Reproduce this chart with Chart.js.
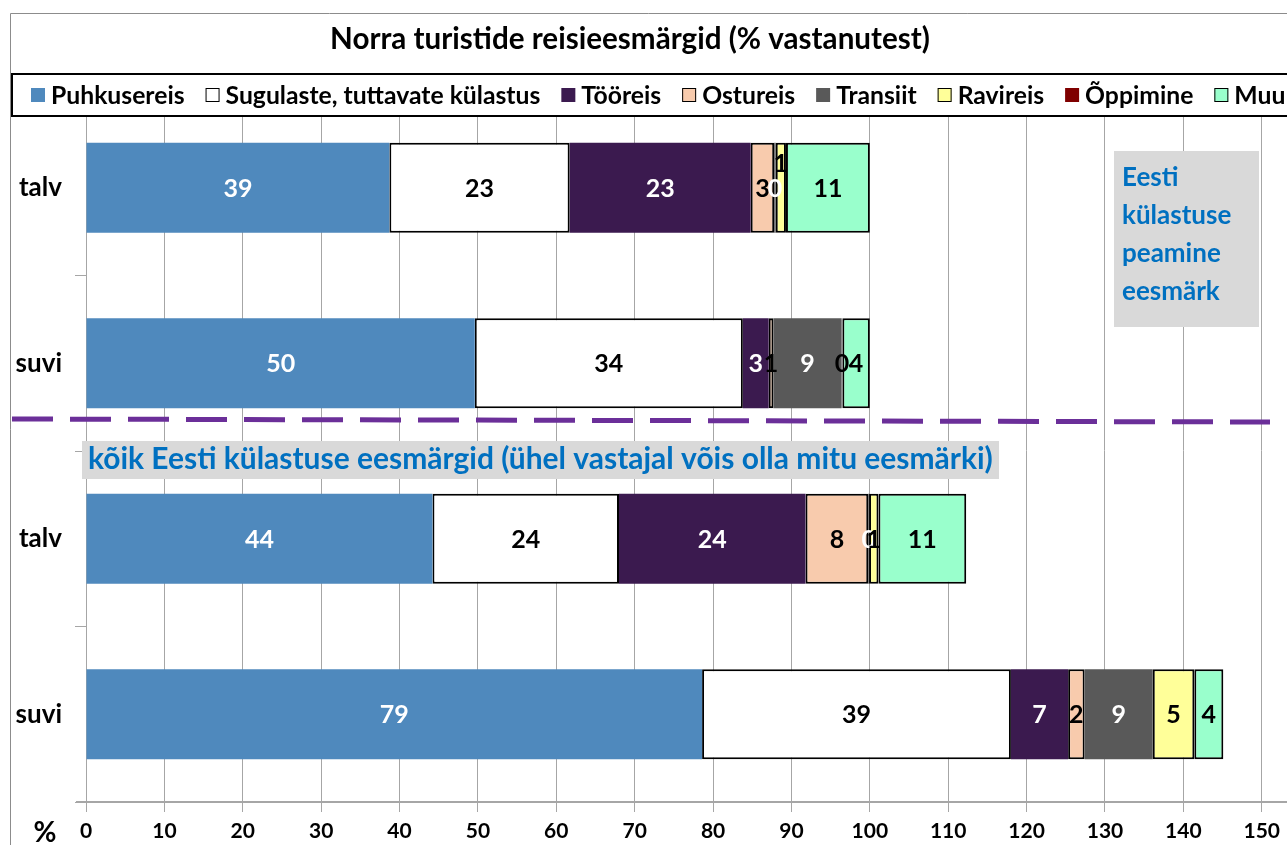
<!DOCTYPE html>
<html>
<head>
<meta charset="utf-8">
<script src="https://cdn.jsdelivr.net/npm/chart.js@4/dist/chart.umd.min.js"></script>
<style>
  html, body { margin: 0; padding: 0; background: #fff; }
  canvas { display: block; }
</style>
</head>
<body>
<canvas id="chart" width="1287" height="845"></canvas>
<script>
// rows: top two = main purpose, bottom two = all purposes
const rows = ['talv', 'suvi', 'talv', 'suvi'];

const puhkusereis = [38.7, 49.6, 44.2, 78.6];
const sugulased   = [23.0, 34.2, 23.8, 39.4];
const tooreis     = [23.1, 3.3, 23.8, 7.3];
const ostureis    = [3.0, 0.6, 8.0, 2.1];
const transiit    = [0.2, 8.7, 0.1, 8.7];
const ravireis    = [1.3, 0.1, 1.2, 5.3];
const oppimine    = [null, null, null, null];
const muu         = [10.7, 3.5, 11.2, 3.7];

const xMin = 0;
const xMax = 150;
const xStep = 10;

const title = 'Norra turistide reisieesmärgid (% vastanutest)';
const noteMain = ['Eesti', 'külastuse', 'peamine', 'eesmärk'];
const noteAll = 'kõik Eesti külastuse eesmärgid (ühel vastajal võis olla mitu eesmärki)';

const FONT = 'Lato, "Noto Sans", sans-serif';

const series = [
  { label: 'Puhkusereis', data: puhkusereis, color: '#4f89bd', edge: false, ink: '#fff' },
  { label: 'Sugulaste, tuttavate külastus', data: sugulased, color: '#ffffff', edge: true, ink: '#000' },
  { label: 'Tööreis', data: tooreis, color: '#3b1a4f', edge: false, ink: '#fff' },
  { label: 'Ostureis', data: ostureis, color: '#f8cbad', edge: true, ink: '#000' },
  { label: 'Transiit', data: transiit, color: '#595959', edge: false, ink: '#fff' },
  { label: 'Ravireis', data: ravireis, color: '#ffff99', edge: true, ink: '#000' },
  { label: 'Õppimine', data: oppimine, color: '#7f0000', edge: false, ink: '#fff' },
  { label: 'Muu', data: muu, color: '#99ffcc', edge: true, ink: '#000' }
];

// label moved up by hand in the original (Ravireis, first row)
const labelNudge = { '5:0': -25 };

function fitSize(ctx, text, width, base) {
  ctx.font = `bold ${base}px ${FONT}`;
  return base * width / ctx.measureText(text).width;
}

const decorations = {
  id: 'decorations',
  afterDatasetsDraw(chart) {
    const ctx = chart.ctx;
    ctx.save();
    ctx.textAlign = 'center';
    ctx.textBaseline = 'middle';
    ctx.font = `bold 25px ${FONT}`;
    chart.data.datasets.forEach((ds, di) => {
      const meta = chart.getDatasetMeta(di);
      meta.data.forEach((bar, i) => {
        const v = ds.data[i];
        if (v === null || v === undefined) return;
        const dy = labelNudge[di + ':' + i] || 0;
        ctx.fillStyle = series[di].ink;
        ctx.fillText(String(Math.round(v)), (bar.x + bar.base) / 2, bar.y + dy + 1);
      });
    });
    ctx.restore();
  },
  afterDraw(chart) {
    const ctx = chart.ctx;
    const area = chart.chartArea;
    const W = chart.width;
    ctx.save();

    // outer frame
    ctx.strokeStyle = '#8c8c8c';
    ctx.lineWidth = 1;
    ctx.beginPath();
    ctx.moveTo(10.5, chart.height);
    ctx.lineTo(10.5, 13.5);
    ctx.lineTo(W, 13.5);
    ctx.stroke();

    // axis line running past the plot
    ctx.strokeStyle = '#a6a6a6';
    ctx.lineWidth = 2;
    ctx.beginPath();
    ctx.moveTo(76, area.bottom);
    ctx.lineTo(W, area.bottom);
    ctx.stroke();

    // title
    ctx.fillStyle = '#000';
    ctx.textAlign = 'center';
    ctx.textBaseline = 'middle';
    const ts = fitSize(ctx, title, 600, 26);
    ctx.font = `bold ${ts}px ${FONT}`;
    ctx.fillText(title, 630, 39);

    // legend
    ctx.fillStyle = '#fff';
    ctx.fillRect(11, 74, W, 42);
    ctx.strokeStyle = '#000';
    ctx.lineWidth = 2;
    ctx.strokeRect(12, 74, W, 42);
    ctx.font = `bold 20px ${FONT}`;
    let total = 0;
    series.forEach(s => { total += ctx.measureText(s.label).width; });
    const ls = 20 * 948 / total;
    ctx.font = `bold ${ls}px ${FONT}`;
    ctx.textAlign = 'left';
    let x = 31;
    series.forEach(s => {
      ctx.fillStyle = s.color;
      ctx.fillRect(x, 88, 14, 14);
      if (s.edge) {
        ctx.strokeStyle = '#000';
        ctx.lineWidth = 1;
        ctx.strokeRect(x + 0.5, 88.5, 13, 13);
      }
      ctx.fillStyle = '#000';
      ctx.fillText(s.label, x + 20, 96);
      x += 20 + ctx.measureText(s.label).width + 21;
    });

    // "%" unit in front of the tick labels
    ctx.font = `bold 28px ${FONT}`;
    ctx.textAlign = 'center';
    ctx.fillText('%', 45, 833);

    // note box: main purpose
    ctx.fillStyle = '#d9d9d9';
    ctx.fillRect(1114, 151, 145, 176);
    ctx.fillStyle = '#0070c0';
    ctx.textAlign = 'left';
    ctx.font = `bold 26px ${FONT}`;
    noteMain.forEach((t, k) => ctx.fillText(t, 1122, 178 + k * 38));

    // dashed divider
    ctx.strokeStyle = '#6b2f99';
    ctx.lineWidth = 5;
    ctx.setLineDash([41, 17]);
    ctx.beginPath();
    ctx.moveTo(12, 419);
    ctx.lineTo(1270, 422);
    ctx.stroke();
    ctx.setLineDash([]);

    // note box: all purposes
    ctx.fillStyle = '#d9d9d9';
    ctx.fillRect(82, 441, 917, 38);
    ctx.fillStyle = '#0070c0';
    const ns = fitSize(ctx, noteAll, 905, 26);
    ctx.font = `bold ${ns}px ${FONT}`;
    ctx.fillText(noteAll, 88, 459);

    ctx.restore();
  }
};

new Chart(document.getElementById('chart'), {
  type: 'bar',
  data: {
    labels: rows,
    datasets: series.map(s => ({
      label: s.label,
      data: s.data,
      backgroundColor: s.color,
      borderColor: s.edge ? '#000' : s.color,
      borderWidth: s.edge ? 2 : 0,
      borderSkipped: false,
      barPercentage: 0.513,
      categoryPercentage: 1
    }))
  },
  options: {
    indexAxis: 'y',
    responsive: false,
    animation: false,
    events: [],
    layout: { padding: { left: 10, top: 100, right: 23, bottom: 0 } },
    plugins: {
      legend: { display: false },
      title: { display: false },
      tooltip: { enabled: false }
    },
    scales: {
      x: {
        stacked: true,
        min: xMin,
        max: xMax,
        afterFit(scale) { scale.height = 43; },
        ticks: {
          stepSize: xStep,
          color: '#000',
          padding: 7,
          maxRotation: 0,
          font: { family: FONT, size: 21, weight: 'bold' }
        },
        grid: { color: '#a6a6a6', lineWidth: 1, tickLength: 10 },
        border: { color: '#a6a6a6', width: 2 }
      },
      y: {
        stacked: true,
        afterFit(scale) { scale.width = 76; },
        ticks: {
          color: '#000',
          padding: 13,
          font: { family: FONT, size: 26, weight: 'bold' }
        },
        grid: { drawOnChartArea: false, color: '#a6a6a6', tickLength: 11 },
        border: { color: '#a6a6a6', width: 1 }
      }
    }
  },
  plugins: [decorations]
});
</script>
</body>
</html>
